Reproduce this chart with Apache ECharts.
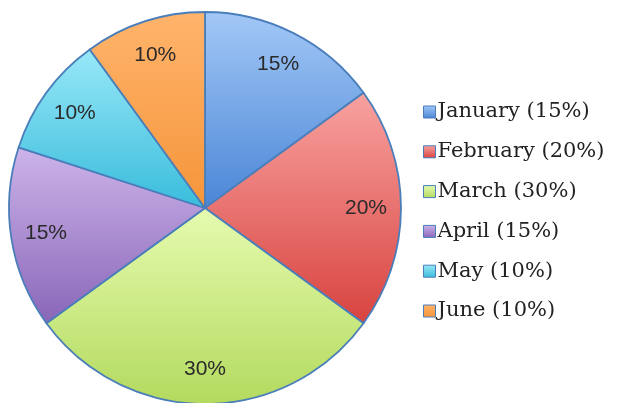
<!DOCTYPE html>
<html>
<head>
    <meta charset="utf-8">
    <title>Monthly share</title>
    <script src="https://cdn.jsdelivr.net/npm/echarts@6/dist/echarts.min.js"></script>
    <style>
        body { margin: 0; background: #fff; }
        #chart { width: 618px; height: 403px; }
    </style>
</head>
<body>
    <div id="chart"></div>
    <script>
        const months = ['January', 'February', 'March', 'April', 'May', 'June'];
        const shares = [15, 20, 30, 15, 10, 10];
        // light (top) / dark (bottom) of each slice
        const topColors = ['#a3c8f7', '#f8a2a0', '#e6fbb0', '#cdb4ea', '#98e8f7', '#ffb46c'];
        const bottomColors = ['#4a86d6', '#d8433f', '#b3da5e', '#8966b8', '#39bcdc', '#f5953a'];

        const grad = i => new echarts.graphic.LinearGradient(0, 0, 0, 1, [
            { offset: 0, color: topColors[i] },
            { offset: 1, color: bottomColors[i] }
        ]);

        const chart = echarts.init(document.getElementById('chart'));
        const pieData = months.map((m, i) => ({
            name: m,
            value: shares[i],
            itemStyle: { color: grad(i) }
        }));

        chart.setOption({
            animation: false,
            legend: {
                orient: 'vertical',
                left: 418,
                top: 96,
                itemWidth: 12,
                itemHeight: 12,
                itemGap: 17.8,
                icon: 'rect',
                itemStyle: { borderColor: '#4a7ebb', borderWidth: 1 },
                textStyle: { fontFamily: 'DejaVu Serif', fontSize: 21, lineHeight: 22, color: '#222', padding: [0, 0, 0, -3] },
                formatter: name => name + ' (' + shares[months.indexOf(name)] + '%)',
                data: months
            },
            series: [
                {
                    type: 'pie',
                    center: [205, 208],
                    radius: [0, 196],
                    startAngle: 90,
                    clockwise: true,
                    label: { show: false },
                    labelLine: { show: false },
                    itemStyle: { borderColor: '#4a7ebb', borderWidth: 1.8 },
                    emphasis: { disabled: true },
                    data: pieData
                },
                {
                    // transparent ring used only to place the percentage labels
                    type: 'pie',
                    center: [205, 208],
                    radius: [120, 196],
                    startAngle: 90,
                    clockwise: true,
                    silent: true,
                    legendHoverLink: false,
                    itemStyle: { color: 'rgba(0,0,0,0)', borderWidth: 0 },
                    label: {
                        show: true,
                        position: 'inside',
                        formatter: '{c}%',
                        fontFamily: 'Liberation Sans',
                        fontSize: 21,
                        color: '#2a2a2a'
                    },
                    labelLine: { show: false },
                    emphasis: { disabled: true },
                    data: months.map((m, i) => ({ name: m + ' ', value: shares[i] }))
                }
            ]
        });
    </script>
</body>
</html>
